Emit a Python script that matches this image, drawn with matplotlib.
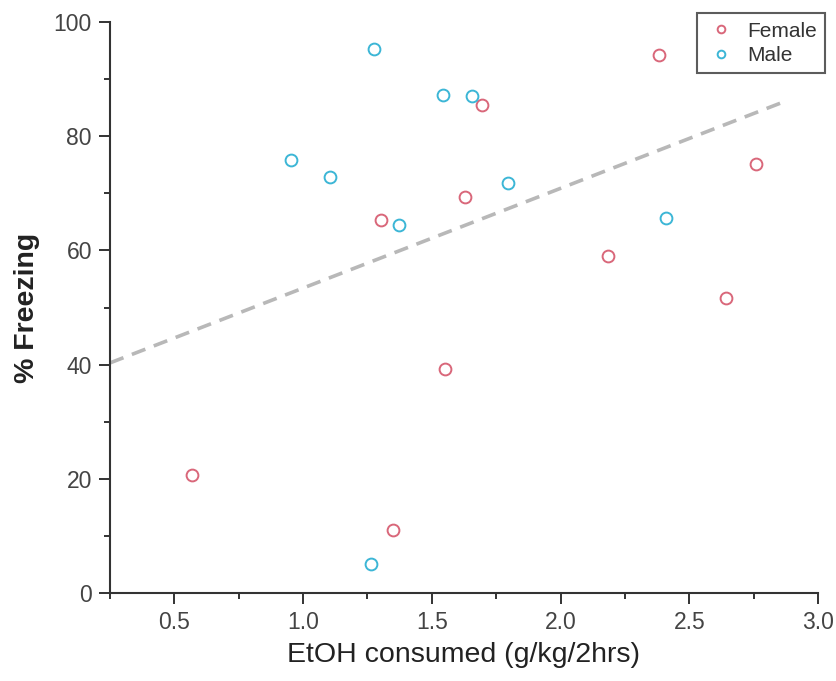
import matplotlib
matplotlib.use('Agg')
import matplotlib.pyplot as plt
import numpy as np

plt.rcParams['font.family'] = ['Liberation Sans', 'DejaVu Sans']

# EtOH intake vs freezing, by sex
fem_x = [0.567, 1.351, 1.303, 1.553, 1.627, 1.696, 2.184, 2.383, 2.758, 2.644]
fem_y = [20.6, 11.0, 65.3, 39.3, 69.4, 85.4, 59.1, 94.2, 75.1, 51.7]
male_x = [1.274, 0.952, 1.105, 1.371, 1.544, 1.657, 1.796, 2.409, 1.263]
male_y = [95.3, 75.8, 72.8, 64.4, 87.2, 87.0, 71.8, 65.6, 5.0]

# trend line
fit_slope = 17.47
fit_icpt = 35.93
fit_range = [0.25, 2.854]

fig = plt.figure(figsize=(8.37, 6.81), dpi=100)
ax1 = fig.add_axes([0.1314, 0.1292, 0.8459, 0.8385])

xf = np.array(fit_range)
ax1.plot(xf, fit_icpt + fit_slope*xf, ls=(0, (4, 2.5)), color='#b8b8b8', lw=2.6, zorder=1)

ax1.plot(fem_x, fem_y, 'o', mfc='none', mec='#d9677a', ms=8.5, mew=1.4, label='Female', zorder=3)
ax1.plot(male_x, male_y, 'o', mfc='none', mec='#3cb6d6', ms=8.5, mew=1.4, label='Male', zorder=3)

ax1.set_xlim(0.25, 3.0)
ax1.set_ylim(0, 100)
ax1.set_xticks([0.5, 1.0, 1.5, 2.0, 2.5, 3.0])
ax1.set_xticks([0.25, 0.75, 1.25, 1.75, 2.25, 2.75], minor=True)
ax1.set_yticks([0, 20, 40, 60, 80, 100])
ax1.set_yticks([10, 30, 50, 70, 90], minor=True)

for s in ['top', 'right']:
    ax1.spines[s].set_visible(False)
for s in ['left', 'bottom']:
    ax1.spines[s].set_linewidth(1.5)
    ax1.spines[s].set_color('#333333')
ax1.tick_params(which='major', length=8, width=1.4, color='#333333', labelsize=16.5, labelcolor='#444444', pad=5)
ax1.tick_params(which='minor', length=4, width=1.4, color='#333333')

ax1.set_xlabel('EtOH consumed (g/kg/2hrs)', fontsize=20.5, color='#222222', labelpad=6)
ax1.set_ylabel('% Freezing', fontsize=20.5, fontweight='bold', color='#222222', labelpad=10)

leg = ax1.legend(loc='upper right', bbox_to_anchor=(1.01, 1.015), fontsize=15, markerscale=0.65,
                 frameon=True, fancybox=False, handletextpad=0.5, borderpad=0.4, labelspacing=0.25,
                 handlelength=1.5, borderaxespad=0)
leg.get_frame().set_edgecolor('#333333')
leg.get_frame().set_linewidth(1.5)
for t in leg.get_texts():
    t.set_color('#333333')

plt.savefig('out.png', dpi=100)
plt.close()
